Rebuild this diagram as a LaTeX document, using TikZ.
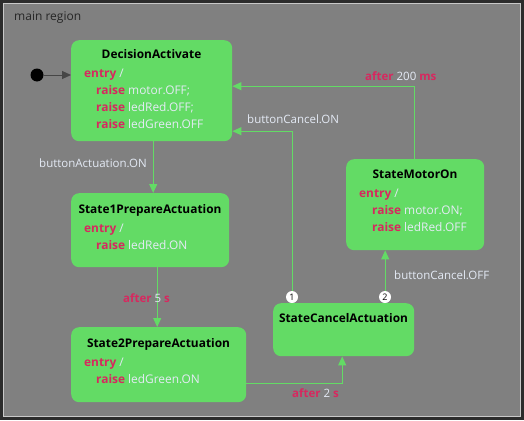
\documentclass[tikz,border=0pt]{standalone}
\usepackage{fontspec}
\setmainfont{Open Sans}
\usetikzlibrary{arrows.meta}
\definecolor{stgreen}{RGB}{99,219,101}
\definecolor{kwcol}{RGB}{215,40,95}
\definecolor{txt}{RGB}{228,234,245}
\definecolor{bgcol}{RGB}{128,128,128}
\definecolor{outercol}{RGB}{43,43,43}
\definecolor{rbcol}{RGB}{200,200,200}
\definecolor{initcol}{RGB}{70,70,70}
\newcommand{\kw}[1]{{\color{kwcol}\bfseries #1}}
\begin{document}
\begin{tikzpicture}[x=1pt,y=-1pt,
  state/.style={draw=none,fill=stgreen,rounded corners=8pt,anchor=north west,inner sep=0},
  stitle/.style={font=\fontsize{11.9}{13}\selectfont\bfseries,text=black,anchor=base,inner sep=0},
  line/.style={font=\fontsize{11.9}{13}\selectfont,text=txt,anchor=base west,inner sep=0},
  trans/.style={draw=stgreen,line width=1pt,-{Triangle[length=9pt,width=8pt]}},
  lbl/.style={font=\fontsize{11.5}{13}\selectfont,text=txt,anchor=base west,inner sep=0},
  num/.style={circle,fill=white,inner sep=0,minimum size=12pt,font=\fontsize{9}{9}\selectfont,text=black}
]
\useasboundingbox (0,0) rectangle (524,420);
\fill[outercol] (0,0) rectangle (524,420);
\filldraw[fill=bgcol,draw=rbcol,line width=1pt] (3.5,3.5) rectangle (520.5,416.5);
\node[font=\fontsize{12}{14}\selectfont,text=black!85,anchor=base west,inner sep=0] (region) at (14,21) {main region};

% states
\node[state,minimum width=161pt,minimum height=101pt] (da) at (71,40) {};
\node[state,minimum width=158pt,minimum height=74pt] (s1) at (71,193) {};
\node[state,minimum width=175pt,minimum height=75pt] (s2) at (71,327) {};
\node[state,minimum width=141pt,minimum height=53pt] (ca) at (273,303) {};
\node[state,minimum width=138pt,minimum height=91pt] (mo) at (346,159) {};

% titles and bodies
\node[stitle] (daT) at (151.5,59) {DecisionActivate};
\node[line] (da1) at (84,77.5) {\kw{entry} /};
\node[line] (da2) at (96,94.5) {\kw{raise} motor.OFF;};
\node[line] (da3) at (96,111.5) {\kw{raise} ledRed.OFF;};
\node[line] (da4) at (96,128.5) {\kw{raise} ledGreen.OFF};

\node[stitle] (s1T) at (150,213) {State1PrepareActuation};
\node[line] (s11) at (84,232) {\kw{entry} /};
\node[line] (s12) at (96,249) {\kw{raise} ledRed.ON};

\node[stitle] (s2T) at (158.5,347) {State2PrepareActuation};
\node[line] (s21) at (84,366) {\kw{entry} /};
\node[line] (s22) at (96,383) {\kw{raise} ledGreen.ON};

\node[stitle] (caT) at (343.5,322) {StateCancelActuation};

\node[stitle] (moT) at (415,178) {StateMotorOn};
\node[line] (mo1) at (359,197) {\kw{entry} /};
\node[line] (mo2) at (372,214) {\kw{raise} motor.ON;};
\node[line] (mo3) at (372,231) {\kw{raise} ledRed.OFF};

% initial
\node[circle,fill=black,inner sep=0,minimum size=13pt] (init) at (37,75) {};
\draw[draw=initcol,line width=1pt,-{Triangle[length=9pt,width=8pt]}] (init.east) -- (init.east -| da.west);

% transitions
\draw[trans] ([xshift=1.5pt]da.south) -- ([xshift=1.5pt]da.south |- s1.north);
\draw[trans] ([xshift=7pt]s1.south) -- ([xshift=7pt]s1.south |- s2.north);
\draw[trans] ([yshift=-18.5pt]s2.east) -| ([xshift=-1.5pt]ca.south);
\draw[trans] ([xshift=-51.5pt]ca.north) |- ([yshift=-40.5pt]da.east);
\draw[trans] ([xshift=41.5pt]ca.north) -- ([xshift=41.5pt]ca.north |- mo.south);
\draw[trans] ([xshift=-1pt]mo.north) |- ([yshift=4.5pt]da.east);

\node[num] (n1) at (292,297) {1};
\node[num] (n2) at (385,297) {2};

% labels
\node[lbl] (l1) at (39,167) {buttonActuation.ON};
\node[lbl] (l2) at (123,302) {\kw{after} 5 \kw{s}};
\node[lbl] (l3) at (292,397) {\kw{after} 2 \kw{s}};
\node[lbl] (l4) at (247,123) {buttonCancel.ON};
\node[lbl] (l5) at (394,279) {buttonCancel.OFF};
\node[lbl] (l6) at (365,80) {\kw{after} 200 \kw{ms}};
\end{tikzpicture}
\end{document}
